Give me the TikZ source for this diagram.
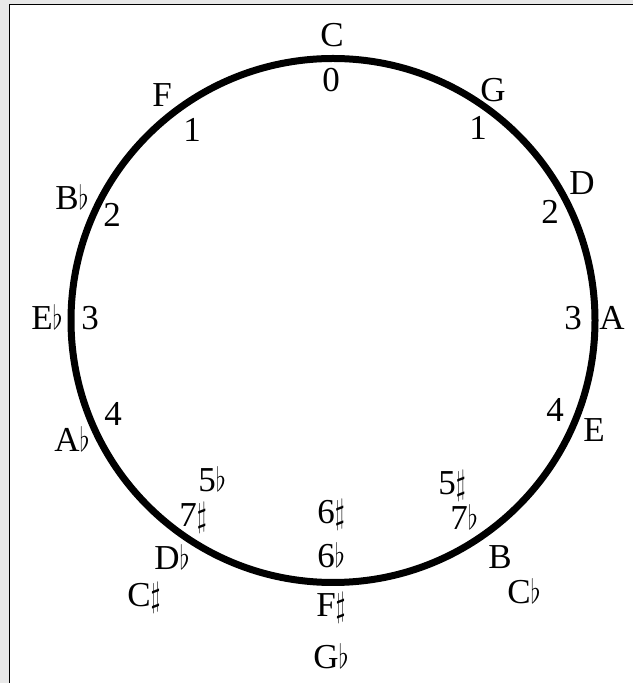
\documentclass[tikz,border=0pt]{standalone}
\usepackage{fontspec}
\usepackage{graphicx}
\setmainfont{Liberation Serif}
\newcommand{\fl}{\resizebox{10pt}{25pt}{$\flat$}}
\newcommand{\shp}{\resizebox{10pt}{24pt}{$\sharp$}}
\begin{document}
\begin{tikzpicture}[x=1pt,y=1pt,
  lbl/.style={inner sep=0pt, text height=23pt, text depth=0pt,
    font=\fontsize{35}{38}\selectfont}]
\useasboundingbox (0,0) rectangle (633,683);
\fill[gray!18] (0,0) rectangle (633,683);
\fill[white] (9.5,0) rectangle (633,678.5);
\draw[line width=1.2pt] (9.5,0) -- (9.5,678.5) -- (633,678.5);
\coordinate (ctr) at (333,362.5);
\draw[line width=7pt] (ctr) circle[radius=262];
% outer note names
\node[lbl] (C)  at (332,648) {C};
\node[lbl] (F)  at (162,588) {F};
\node[lbl] (G)  at (493,593) {G};
\node[lbl] (Bb) at (72,485) {B\fl};
\node[lbl] (D)  at (582,500) {D};
\node[lbl] (Eb) at (47,365) {E\fl};
\node[lbl] (A)  at (612,365) {A};
\node[lbl] (Ab) at (72,243) {A\fl};
\node[lbl] (E)  at (594,253) {E};
\node[lbl] (Db) at (172,125) {D\fl};
\node[lbl] (Cs) at (144,88) {C\shp};
\node[lbl] (Fs) at (331,78) {F\shp};
\node[lbl] (Gb) at (331,26) {G\fl};
\node[lbl] (B)  at (500,126) {B};
\node[lbl] (Cb) at (524,91) {C\fl};
% inner numbers
\node[lbl] (n0)  at (331,603) {0};
\node[lbl] (n1l) at (192,553) {1};
\node[lbl] (n1r) at (478,555) {1};
\node[lbl] (n2l) at (112,468) {2};
\node[lbl] (n2r) at (550,471) {2};
\node[lbl] (n3l) at (90,365) {3};
\node[lbl] (n3r) at (573,365) {3};
\node[lbl] (n4l) at (113,269) {4};
\node[lbl] (n4r) at (555,273) {4};
\node[lbl] (n5b) at (212,203) {5\fl};
\node[lbl] (n7s) at (193,168) {7\shp};
\node[lbl] (n6s) at (331,171) {6\shp};
\node[lbl] (n6b) at (331,127) {6\fl};
\node[lbl] (n5s) at (452,200) {5\shp};
\node[lbl] (n7b) at (464,165) {7\fl};
\end{tikzpicture}
\end{document}
